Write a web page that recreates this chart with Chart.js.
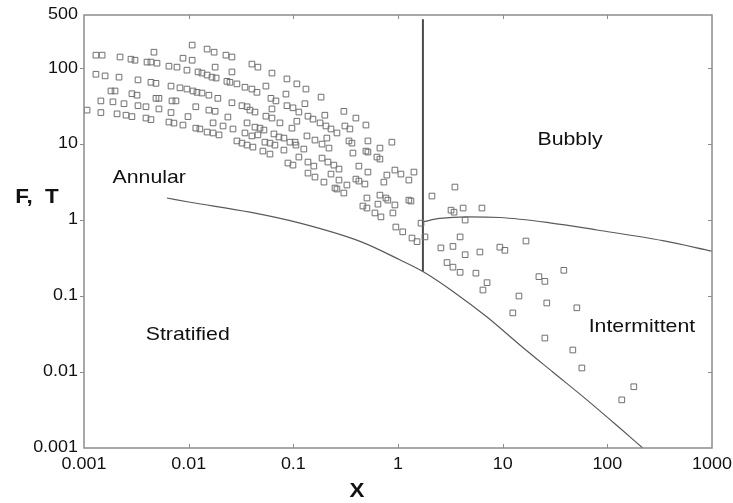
<!DOCTYPE html>
<html>
<head>
<meta charset="utf-8">
<script src="https://cdn.jsdelivr.net/npm/chart.js@4.4.1/dist/chart.umd.min.js"></script>
<style>
  html, body { margin: 0; padding: 0; background: #fff; }
</style>
</head>
<body>
<canvas id="regimeChart" width="733" height="503"></canvas>
<script>
// axis ticks
const xTicks = [0.001, 0.01, 0.1, 1, 10, 100, 1000];
const xTickLabels = ['0.001', '0.01', '0.1', '1', '10', '100', '1000'];
const yTicks = [0.001, 0.01, 0.1, 1, 10, 100, 500];
const yTickLabels = ['0.001', '0.01', '0.1', '1', '10', '100', '500'];

// measured points: X and F/T
const pointX = [
  0.0013, 0.00149, 0.00221, 0.00281, 0.00307, 0.004, 0.00436, 0.00498, 0.00648, 0.00773,
  0.00963, 0.0123, 0.0134, 0.015, 0.0167, 0.0183, 0.0232, 0.0248, 0.0289, 0.0345,
  0.00466, 0.0108, 0.00882, 0.0108, 0.015, 0.0175, 0.0227, 0.0259, 0.0179, 0.0259,
  0.0013, 0.00159, 0.00216, 0.00328, 0.00436, 0.00487, 0.00678, 0.00826, 0.00963, 0.011,
  0.012, 0.0134, 0.0156, 0.019, 0.0259, 0.0323, 0.0361,
  0.00181, 0.00198, 0.00287, 0.00321, 0.00487, 0.0052, 0.00693, 0.00756, 0.0117, 0.0156,
  0.0179, 0.0237, 0.0361,
  0.00145, 0.00189, 0.00241, 0.00328, 0.00391, 0.0052, 0.00678, 0.00985, 0.0171, 0.0213, 0.0265,
  0.00107, 0.00145, 0.00207, 0.00252, 0.00287, 0.00391, 0.00436, 0.00648, 0.00723, 0.00882,
  0.0117, 0.0128, 0.015, 0.0171, 0.0195, 0.0289, 0.0323, 0.0361, 0.0345,
  0.0402, 0.0459, 0.0625, 0.0869, 0.108, 0.132, 0.184, 0.0402, 0.0449, 0.0547,
  0.085, 0.0611, 0.0682, 0.129, 0.0385, 0.043, 0.0625, 0.0869, 0.0992, 0.113,
  0.2, 0.304, 0.396, 0.494, 0.0547, 0.0625, 0.0745, 0.108, 0.138, 0.154,
  0.18, 0.205, 0.229, 0.261, 0.311, 0.347, 0.097, 0.043, 0.048, 0.0524,
  0.0402, 0.0459, 0.0653, 0.0729, 0.0813, 0.0928, 0.104, 0.135, 0.161, 0.209,
  0.34, 0.516, 0.874, 0.0535, 0.0598, 0.188,
  0.0667, 0.0411, 0.0512, 0.0598, 0.0813, 0.106, 0.219, 0.363, 0.672, 0.371,
  0.494, 0.516, 0.629, 0.672, 0.0888, 0.0992, 0.113, 0.126, 0.138, 0.157,
  0.188, 0.214, 0.244, 0.273, 0.423, 0.516, 0.138, 0.161, 0.196, 0.229,
  0.273, 0.325, 0.396, 0.423, 0.483, 0.25, 0.261, 0.304, 0.733, 0.783,
  0.934, 1.066, 1.27, 1.42, 0.505, 0.672, 0.767, 0.8, 0.643, 0.934,
  1.27, 1.33, 0.462, 0.505, 0.602, 0.687, 0.894, 0.954, 1.11, 1.36,
  1.52, 1.66, 1.81,
  3.5, 2.11, 3.21, 3.43, 4.19, 6.34, 4.38, 3.92, 2.57, 3.35,
  4.38, 6.06, 9.4, 10.5, 16.7, 2.94, 3.35, 3.92, 5.55, 7.09,
  6.48, 22.2, 25.3, 38.4, 14.3, 26.4, 51.1, 12.5, 25.3, 46.8,
  57.1, 179, 137.5
];
const pointY = [
  148, 148, 140, 131, 127, 120, 120, 116, 106, 103,
  94, 89, 86, 81, 76, 74, 67, 65, 62, 56,
  162, 201, 135, 127, 178, 162, 148, 140, 103, 89,
  83, 79, 76, 70, 65, 63, 58, 55, 53, 50,
  48, 47, 44, 40, 35, 32, 31,
  50, 50, 46, 44, 40, 40, 37, 37, 31, 28,
  27, 22.7, 19,
  37, 36, 34, 32, 31, 29, 26, 23, 19, 17.3, 15.8,
  28, 26, 25, 24, 23, 22, 21, 19.5, 18.9, 17.8,
  16.2, 15.8, 14.4, 14.0, 13.2, 11.0, 10.3, 9.7, 14.0,
  113, 103, 86, 72, 62, 53, 41.5, 53, 48, 58,
  45.5, 40, 37, 34, 28, 26.4, 29, 32, 30, 26.4,
  24, 27, 22, 17.8, 23.3, 22, 19, 20, 23.3, 21.3,
  19, 17.3, 15.8, 14, 17.3, 15.8, 16.2, 16.7, 16.2, 15.3,
  12.8, 13.2, 13.6, 12.4, 12, 10.6, 10.6, 12.8, 11.3, 12,
  11, 11, 10.6, 10.6, 10.3, 10,
  9.7, 9.13, 8.09, 7.39, 8.34, 9.7, 8.86, 10.3, 8.86, 7.62,
  8.09, 7.85, 6.75, 6.35, 5.63, 5.29, 6.75, 8.6, 5.8, 5.13,
  6.54, 5.8, 5.29, 4.69, 5.13, 4.28, 4.15, 3.68, 3.16, 4.03,
  3.36, 2.89, 3.46, 3.26, 2.98, 2.64, 2.56, 2.27, 3.16, 3.91,
  4.55, 4.03, 3.36, 4.28, 1.95, 2.13, 1.95, 1.83, 1.62, 1.58,
  1.83, 1.78, 1.53, 1.44, 1.24, 1.1, 1.24, 0.81, 0.70, 0.58,
  0.52, 0.91, 0.60,
  2.72, 2.07, 1.35, 1.27, 1.44, 1.44, 1.0, 0.60, 0.43, 0.45,
  0.35, 0.38, 0.44, 0.40, 0.53, 0.276, 0.24, 0.205, 0.20, 0.15,
  0.12, 0.18, 0.156, 0.218, 0.1, 0.081, 0.07, 0.06, 0.028, 0.0195,
  0.0113, 0.0064, 0.0043
];

// stratified boundary curve
const stratX = [0.0062, 0.01, 0.0385, 0.116, 0.44, 1.04, 1.73, 3.35, 7.09, 14.6, 30.1, 63.7, 131.6, 218];
const stratY = [1.95, 1.73, 1.27, 0.91, 0.52, 0.30, 0.21, 0.115, 0.0529, 0.0227, 0.01, 0.0043, 0.00183, 0.001];

// annular / intermittent vertical boundary
const annularX = [1.73, 1.73];
const annularY = [0.21, 440];

// bubbly / intermittent boundary curve
const bubblyX = [1.73, 2.51, 4.55, 9.4, 28.2, 79.6, 339, 1000];
const bubblyY = [0.95, 1.05, 1.10, 1.08, 0.92, 0.74, 0.535, 0.39];

// region names and where they sit (data coordinates)
const regionNames = ['Annular', 'Bubbly', 'Stratified', 'Intermittent'];
const regionX = [0.0042, 44, 0.0098, 214];
const regionY = [3.6, 11.3, 0.031, 0.040];

function toXY(xs, ys) {
  return xs.map((x, i) => ({ x: x, y: ys[i] }));
}

// draw text slightly widened like the original figure
function wideText(ctx, text, x, y, align, sx) {
  ctx.save();
  ctx.translate(x, y);
  ctx.scale(sx, 1);
  ctx.textAlign = align;
  ctx.textBaseline = 'middle';
  ctx.fillText(text, 0, 0);
  ctx.restore();
}

const framePlugin = {
  id: 'frame',
  afterDatasetsDraw(chart) {
    const ctx = chart.ctx;
    const area = chart.chartArea;
    const xs = chart.scales.x;
    const ys = chart.scales.y;

    ctx.save();
    // box
    ctx.strokeStyle = '#8c8c8c';
    ctx.lineWidth = 1.5;
    ctx.strokeRect(area.left, area.top, area.right - area.left, area.bottom - area.top);

    // decade ticks
    ctx.lineWidth = 1;
    ctx.beginPath();
    xTicks.slice(1, -1).forEach(v => {
      const px = Math.round(xs.getPixelForValue(v)) + 0.5;
      ctx.moveTo(px, area.bottom); ctx.lineTo(px, area.bottom - 4);
      ctx.moveTo(px, area.top); ctx.lineTo(px, area.top + 4);
    });
    yTicks.slice(1, -1).forEach(v => {
      const py = Math.round(ys.getPixelForValue(v)) + 0.5;
      ctx.moveTo(area.left - 4, py); ctx.lineTo(area.left, py);
      ctx.moveTo(area.right, py); ctx.lineTo(area.right - 4, py);
    });
    ctx.stroke();

    // tick labels
    ctx.fillStyle = '#111';
    ctx.font = '16px "Liberation Sans", Arial, sans-serif';
    xTicks.forEach((v, i) => {
      wideText(ctx, xTickLabels[i], xs.getPixelForValue(v), area.bottom + 17, 'center', 1.12);
    });
    yTicks.forEach((v, i) => {
      wideText(ctx, yTickLabels[i], area.left - 6, ys.getPixelForValue(v), 'right', 1.12);
    });

    // axis titles
    ctx.font = 'bold 20px "Liberation Sans", Arial, sans-serif';
    wideText(ctx, 'F,  T', 37, 197, 'center', 1.12);
    wideText(ctx, 'X', 357, 491, 'center', 1.12);

    // region names
    ctx.font = '19px "Liberation Sans", Arial, sans-serif';
    regionNames.forEach((name, i) => {
      wideText(ctx, name, xs.getPixelForValue(regionX[i]), ys.getPixelForValue(regionY[i]), 'center', 1.12);
    });
    ctx.restore();
  }
};

const lineStyle = {
  showLine: true,
  pointRadius: 0,
  borderColor: '#5a5a5a',
  borderWidth: 1.2,
  cubicInterpolationMode: 'monotone',
  fill: false
};

new Chart(document.getElementById('regimeChart'), {
  type: 'scatter',
  data: {
    datasets: [
      {
        label: 'data',
        data: toXY(pointX, pointY),
        pointStyle: 'rect',
        pointRadius: 4,
        borderColor: '#707070',
        borderWidth: 1,
        backgroundColor: 'rgba(0,0,0,0)'
      },
      Object.assign({ label: 'stratified', data: toXY(stratX, stratY) }, lineStyle),
      Object.assign({ label: 'bubbly', data: toXY(bubblyX, bubblyY) }, lineStyle),
      {
        label: 'annular',
        data: toXY(annularX, annularY),
        showLine: true,
        pointRadius: 0,
        borderColor: '#4a4a4a',
        borderWidth: 2
      }
    ]
  },
  options: {
    responsive: false,
    animation: false,
    devicePixelRatio: 1,
    layout: { padding: { left: 84, top: 15, right: 21, bottom: 55 } },
    plugins: {
      legend: { display: false },
      tooltip: { enabled: false }
    },
    scales: {
      x: { type: 'logarithmic', min: 0.001, max: 1000, display: false },
      y: { type: 'logarithmic', min: 0.001, max: 500, display: false }
    }
  },
  plugins: [framePlugin]
});
</script>
</body>
</html>
